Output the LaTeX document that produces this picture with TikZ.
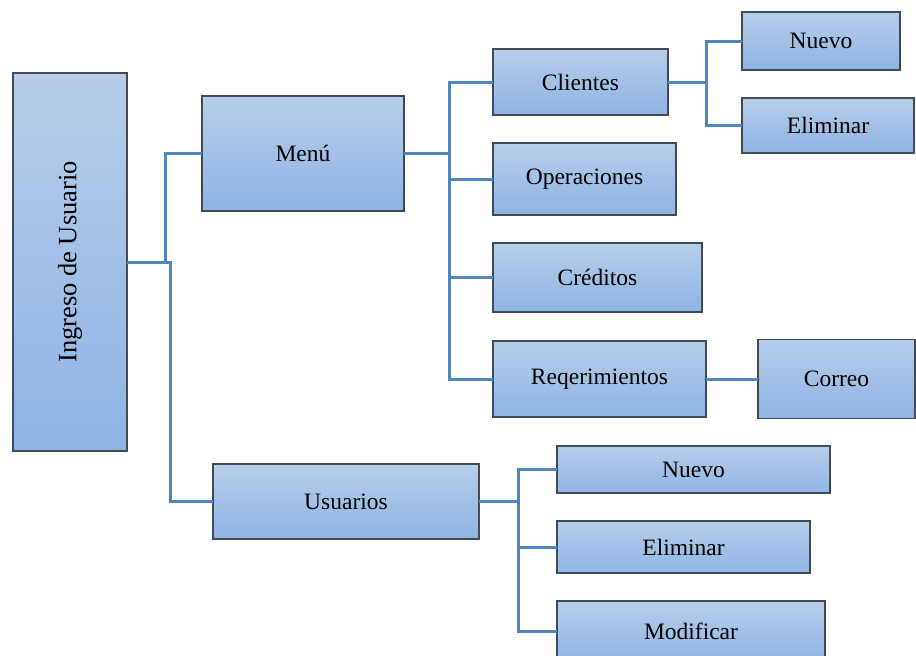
\documentclass[tikz,border=0pt]{standalone}
\usepackage{fontspec}
\setmainfont{Liberation Serif}
\usepackage{graphicx}
\usetikzlibrary{positioning}

\definecolor{boxtop}{RGB}{182,206,234}
\definecolor{boxbot}{RGB}{142,180,227}
\definecolor{boxline}{RGB}{66,74,86}
\definecolor{linkblue}{RGB}{80,134,192}

\begin{document}
\begin{tikzpicture}[
  x=1pt, y=-1pt,
  font=\fontsize{23.5}{27}\selectfont,
  box/.style={draw=boxline, line width=1.1pt, top color=boxtop, bottom color=boxbot,
              inner sep=0pt, outer sep=0pt, align=center},
  link/.style={draw=linkblue, line width=3pt},
]
\useasboundingbox (0,0) rectangle (916,656);
\clip (0,0) rectangle (916,656);
\node[box, anchor=north west, minimum width=114pt, minimum height=378pt] (ingreso) at (13,73)
  {\rotatebox{90}{\fontsize{26.5}{30}\selectfont Ingreso de Usuario}};
\node[box, anchor=north west, minimum width=202pt, minimum height=115pt] (menu) at (202,96) {Menú};
\node[box, anchor=north west, minimum width=266pt, minimum height=75pt] (usuarios) at (213,464) {Usuarios};
\node[box, anchor=north west, minimum width=175pt, minimum height=66pt] (clientes) at (493,49) {Clientes};
\node[box, below right=28pt and 0pt of clientes.south west, minimum width=183pt, minimum height=72pt] (operaciones) {Operaciones};
\node[box, below right=28pt and 0pt of operaciones.south west, minimum width=209pt, minimum height=69pt] (creditos) {Créditos};
\node[box, below right=29pt and 0pt of creditos.south west, minimum width=213pt, minimum height=76pt] (reqs) {Reqerimientos};
\node[box, right=52pt of reqs, minimum width=157pt, minimum height=79pt] (correo) {Correo};
\node[box, anchor=north west, minimum width=158pt, minimum height=58pt] (nuevoA) at (742,12) {Nuevo};
\node[box, below right=28pt and 0pt of nuevoA.south west, minimum width=172pt, minimum height=55pt] (eliminarA) {Eliminar};
\node[box, anchor=north west, minimum width=273pt, minimum height=47pt] (nuevoB) at (557,446) {Nuevo};
\node[box, below right=28pt and 0pt of nuevoB.south west, minimum width=253pt, minimum height=52pt] (eliminarB) {Eliminar};
\node[box, below right=28pt and 0pt of eliminarB.south west, minimum width=268pt, minimum height=60pt] (modificar) {Modificar};
% connectors
\coordinate (ibus) at (165,262);
\coordinate (ubus) at (170,262);
\draw[link] (ingreso.east) -- (ibus) |- (menu.west);
\draw[link] (ingreso.east) -- (ubus) |- (usuarios.west);
\coordinate (mbus) at (449,153.5);
\foreach \n in {clientes,operaciones,creditos,reqs}
  \draw[link] (menu.east) -- (mbus) |- (\n.west);
\coordinate (cbus) at (706,82);
\foreach \n in {nuevoA,eliminarA}
  \draw[link] (clientes.east) -- (cbus) |- (\n.west);
\draw[link] (reqs) -- (correo);
\coordinate (usrbus) at (518,501.5);
\foreach \n in {nuevoB,eliminarB,modificar}
  \draw[link] (usuarios.east) -- (usrbus) |- (\n.west);
\end{tikzpicture}
\end{document}
